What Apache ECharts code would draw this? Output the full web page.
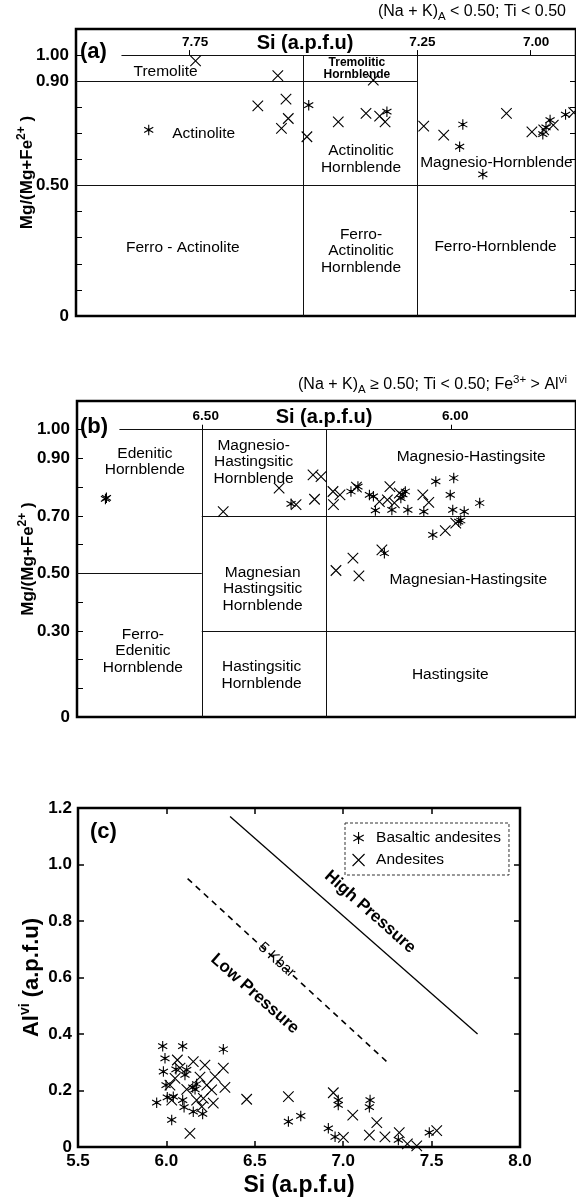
<!DOCTYPE html>
<html><head><meta charset="utf-8">
<script src="https://cdn.jsdelivr.net/npm/echarts@6/dist/echarts.min.js"></script>
<style>html,body{margin:0;padding:0;background:#fff}#c{width:576px;height:1202px}</style>
</head><body><div id="c"></div>
<script>
const FONT = '"Liberation Sans", Arial, Helvetica, sans-serif';

// ---------- Panel (a) ----------
const siTicksA = [7.75, 7.25, 7.00];
const mgLabelsA = [0, 0.5, 0.9, 1.0];
const basalticA = [[7.840,0.713],[7.488,0.808],[7.316,0.783],[7.149,0.734],[7.156,0.649],[7.105,0.543],
  [6.973,0.697],[6.966,0.723],[6.957,0.751],[6.923,0.772]];
const andesitesA = [[7.737,0.978],[7.556,0.921],[7.600,0.805],[7.538,0.831],[7.533,0.757],[7.548,0.719],
  [7.492,0.687],[7.423,0.744],[7.346,0.904],[7.362,0.777],[7.332,0.766],[7.320,0.744],[7.235,0.728],
  [7.191,0.693],[7.053,0.777],[6.997,0.706],[6.971,0.713],[6.950,0.732],[6.905,0.780]];
const boundariesA = [
  [[7.90,1.0],[6.9,1.0]], [[8.0,0.9],[7.25,0.9]], [[8.0,0.5],[6.9,0.5]],
  [[7.5,1.0],[7.5,0]], [[7.25,1.0],[7.25,0]]];
const fieldLabelsA = [
  ['Tremolite',7.803,0.935], ['Actinolite',7.719,0.697], ['Tremolitic\nHornblende',7.382,0.946],
  ['Actinolitic\nHornblende',7.373,0.60], ['Magnesio-Hornblende',7.075,0.586],
  ['Ferro - Actinolite',7.765,0.26], ['Ferro-\nActinolitic\nHornblende',7.373,0.249], ['Ferro-Hornblende',7.077,0.265]];

// ---------- Panel (b) ----------
const siTicksB = [6.50, 6.00];
const mgLabelsB = [0, 0.3, 0.5, 0.7, 0.9, 1.0];
const basalticB = [[6.693,0.759],[6.691,0.763],[6.321,0.742],[6.201,0.785],[6.187,0.802],[6.164,0.773],
  [6.156,0.768],[6.152,0.719],[6.119,0.721],[6.101,0.762],[6.092,0.785],[6.097,0.775],[6.087,0.721],
  [6.055,0.715],[6.031,0.820],[5.995,0.832],[6.002,0.773],[5.997,0.721],[5.974,0.715],[5.943,0.745],
  [5.985,0.680],[5.981,0.684],[6.037,0.634],[6.134,0.570]];
const andesitesB = [[6.457,0.715],[6.345,0.797],[6.311,0.739],[6.274,0.758],[6.277,0.843],[6.261,0.837],
  [6.237,0.785],[6.223,0.773],[6.236,0.739],[6.190,0.800],[6.144,0.750],[6.123,0.802],[6.128,0.756],
  [6.114,0.745],[6.104,0.779],[6.057,0.773],[6.045,0.747],[5.991,0.675],[6.012,0.649],[6.139,0.582],
  [6.197,0.553],[6.231,0.510],[6.185,0.491]];
const boundariesB = [
  [[6.665,1.0],[5.75,1.0]], [[6.5,1.0],[6.5,0]], [[6.25,1.0],[6.25,0]],
  [[6.5,0.7],[5.75,0.7]], [[6.75,0.5],[6.5,0.5]], [[6.5,0.3],[5.75,0.3]]];
const fieldLabelsB = [
  ['Edenitic\nHornblende',6.614,0.888], ['Ferro-\nEdenitic\nHornblende',6.618,0.23],
  ['Magnesio-\nHastingsitic\nHornblende',6.396,0.888], ['Magnesian\nHastingsitic\nHornblende',6.378,0.446],
  ['Hastingsitic\nHornblende',6.38,0.146], ['Magnesio-Hastingsite',5.96,0.906],
  ['Magnesian-Hastingsite',5.966,0.477], ['Hastingsite',6.002,0.146]];

// ---------- Panel (c) ----------
const basalticC = [[5.979,0.357],[6.092,0.357],[6.322,0.346],[5.992,0.314],[5.983,0.267],[6.054,0.275],
  [6.115,0.273],[6.105,0.255],[5.998,0.219],[5.945,0.157],[6.005,0.176],[6.039,0.178],[6.030,0.096],
  [6.092,0.166],[6.100,0.141],[6.149,0.211],[6.162,0.204],[6.171,0.223],[6.152,0.125],[6.205,0.117],
  [6.690,0.090],[6.760,0.110],[6.916,0.066],[6.954,0.036],[6.972,0.166],[6.972,0.149],[7.152,0.166],
  [7.148,0.141],[7.312,0.025],[7.487,0.051]];
const andesitesC = [[6.133,0.048],[6.454,0.169],[6.690,0.178],[6.322,0.279],[6.331,0.211],[6.275,0.249],
  [6.218,0.290],[6.152,0.302],[6.228,0.219],[6.256,0.202],[6.265,0.155],[6.049,0.243],[6.020,0.219],
  [6.077,0.279],[6.062,0.308],[6.171,0.166],[6.209,0.172],[6.200,0.143],[6.115,0.204],[6.030,0.166],
  [6.190,0.247],[6.944,0.192],[7.001,0.034],[7.054,0.113],[7.190,0.086],[7.148,0.042],[7.236,0.036],
  [7.317,0.051],[7.363,0.011],[7.416,0.004],[7.529,0.058]];
const highPressureLine = [[6.36,1.17],[7.76,0.40]];
const kbar5Line = [[6.12,0.95],[7.25,0.30]];
const fieldLabelsC = [['High Pressure',7.152,0.832], ['5 Kbar',6.624,0.662], ['Low Pressure',6.50,0.542]];

const labelStyle = {
  'Tremolitic\nHornblende': {size: 12, bold: true, lh: 12},
  'High Pressure': {size: 17, bold: true, rot: -41.5},
  'Low Pressure': {size: 17, bold: true, rot: -41.5},
  '5 Kbar': {size: 15, rot: -42}
};

const STAR = 'path://M5,0L5,10M0.67,2.5L9.33,7.5M9.33,2.5L0.67,7.5M4.2,4.2L5.8,4.2L5.8,5.8L4.2,5.8Z';
const CROSS = 'path://M0,0L10,10M10,0L0,10';

function pts(name, symbol, data, xi, yi) {
  return {type: 'scatter', name, data, xAxisIndex: xi, yAxisIndex: yi, symbol, symbolSize: 10.5,
    symbolKeepAspect: true, silent: true,
    itemStyle: {color: '#000', borderColor: '#000', borderWidth: 1.1, opacity: 1}};
}
function segs(list, xi, yi, style) {
  return {type: 'lines', coordinateSystem: 'cartesian2d', xAxisIndex: xi, yAxisIndex: yi, silent: true,
    data: list.map(c => ({coords: c})),
    lineStyle: Object.assign({color: '#000', width: 1, opacity: 1, curveness: 0}, style || {})};
}
function texts(arr, xi, yi) {
  return {type: 'custom', xAxisIndex: xi, yAxisIndex: yi, silent: true,
    data: arr.map(d => [d[1], d[2]]),
    renderItem: (p, api) => {
      const d = arr[p.dataIndex];
      const st = labelStyle[d[0]] || {};
      const c = api.coord([api.value(0), api.value(1)]);
      return {type: 'text', x: c[0], y: c[1], rotation: (st.rot || 0) * Math.PI / 180,
        style: {text: d[0], fill: '#000', fontFamily: FONT, fontSize: st.size || 15.5,
          fontWeight: st.bold ? 'bold' : 'normal', align: 'center', verticalAlign: 'middle',
          lineHeight: st.lh || 16.5}};
    }};
}

const gridA = {left: 76, top: 29, width: 502, height: 287};
const gridB = {left: 77, top: 401, width: 501, height: 316};
const gridC = {left: 78, top: 808, width: 442, height: 339};
const border = {show: true, borderColor: '#000', borderWidth: 2.5, backgroundColor: 'transparent'};

const axisName = {fontFamily: FONT, fontWeight: 'bold', color: '#000'};
const tickLbl = {fontFamily: FONT, fontWeight: 'bold', color: '#000'};

function topSiAxis(grid, min, max, ticks, gridObj, pad, namePad) {
  const off = -(gridObj.height * 0.1 / 1.1);
  return {type: 'value', gridIndex: grid, inverse: true, min, max, position: 'top', offset: off,
    axisLine: {show: false, onZero: false},
    axisTick: {show: true, customValues: ticks, length: 5, lineStyle: {color: '#000', width: 1}},
    axisLabel: {customValues: ticks, formatter: v => v.toFixed(2), fontSize: 13.5, margin: 6,
      padding: [0, 0, 0, pad], ...tickLbl},
    splitLine: {show: false},
    name: 'Si (a.p.f.u)', nameLocation: 'middle', nameGap: 2, nameMoveOverlap: false,
    nameTextStyle: {...axisName, fontSize: 20, padding: [0, namePad, 0, 0]}};
}
function mgAxis(grid, labels) {
  return {type: 'value', gridIndex: grid, min: 0, max: 1.1, interval: 0.1, position: 'left',
    axisLine: {show: false}, axisTick: {show: true, inside: true, length: 6, lineStyle: {color: '#000'}},
    axisLabel: {customValues: labels, formatter: v => v === 0 ? '0' : v.toFixed(2), fontSize: 17, margin: 7, ...tickLbl},
    splitLine: {show: false},
    name: '{b|Mg/(Mg+Fe}{s|2+}{b| )}', nameLocation: 'middle', nameGap: 38, nameRotate: 90,
    nameMoveOverlap: false,
    nameTextStyle: {...axisName, fontSize: 17, rich: {
      b: {fontFamily: FONT, fontWeight: 'bold', fontSize: 17, lineHeight: 22, color: '#000'},
      s: {fontFamily: FONT, fontWeight: 'bold', fontSize: 12, lineHeight: 12, verticalAlign: 'top', color: '#000'}}}};
}

const rich13 = {
  n: {fontFamily: FONT, fontSize: 16, lineHeight: 22, fill: '#000'},
  sub: {fontFamily: FONT, fontSize: 11.5, lineHeight: 11, verticalAlign: 'bottom', fill: '#000'},
  sup: {fontFamily: FONT, fontSize: 11.5, lineHeight: 11, verticalAlign: 'top', fill: '#000'}
};

const option = {
  animation: false,
  backgroundColor: '#fff',
  textStyle: {fontFamily: FONT},
  grid: [{...gridA, ...border}, {...gridB, ...border}, {...gridC, ...border}],
  xAxis: [
    topSiAxis(0, 6.9, 8.0, siTicksA, gridA, 11, 42),
    topSiAxis(1, 5.75, 6.75, siTicksB, gridB, 8, 5),
    {type: 'value', gridIndex: 2, min: 5.5, max: 8.0, interval: 0.5, position: 'bottom',
      axisLine: {show: false, onZero: false},
      axisTick: {show: true, inside: true, length: 6, lineStyle: {color: '#000', width: 1.5}},
      axisLabel: {formatter: v => v.toFixed(1), fontSize: 17, margin: 6, ...tickLbl},
      splitLine: {show: false},
      name: 'Si (a.p.f.u)', nameLocation: 'middle', nameGap: 27, nameMoveOverlap: false,
      nameTextStyle: {...axisName, fontSize: 23}},
    {type: 'value', gridIndex: 2, min: 5.5, max: 8.0, interval: 0.5, position: 'top',
      axisLine: {show: false, onZero: false},
      axisTick: {show: true, inside: true, length: 6, lineStyle: {color: '#000', width: 1.5}},
      axisLabel: {show: false}, splitLine: {show: false}}
  ],
  yAxis: [
    mgAxis(0, mgLabelsA),
    {type: 'value', gridIndex: 0, min: 0, max: 1.1, interval: 0.1, position: 'right',
      axisLine: {show: false}, axisTick: {show: true, inside: true, length: 6, lineStyle: {color: '#000'}},
      axisLabel: {show: false}, splitLine: {show: false}},
    mgAxis(1, mgLabelsB),
    {type: 'value', gridIndex: 2, min: 0, max: 1.2, interval: 0.2, position: 'left',
      axisLine: {show: false}, axisTick: {show: true, inside: true, length: 6, lineStyle: {color: '#000', width: 1.5}},
      axisLabel: {formatter: v => v === 0 ? '0' : v.toFixed(1), fontSize: 17, margin: 6, ...tickLbl},
      splitLine: {show: false},
      name: '{b|Al}{s|vi}{b| (a.p.f.u)}', nameLocation: 'middle', nameGap: 32, nameRotate: 90,
      nameMoveOverlap: false,
      nameTextStyle: {...axisName, fontSize: 22, rich: {
        b: {fontFamily: FONT, fontWeight: 'bold', fontSize: 22, lineHeight: 28, color: '#000'},
        s: {fontFamily: FONT, fontWeight: 'bold', fontSize: 14, lineHeight: 14, verticalAlign: 'top', color: '#000'}}}},
    {type: 'value', gridIndex: 2, min: 0, max: 1.2, interval: 0.2, position: 'right',
      axisLine: {show: false}, axisTick: {show: true, inside: true, length: 6, lineStyle: {color: '#000', width: 1.5}},
      axisLabel: {show: false}, splitLine: {show: false}}
  ],
  legend: {data: ['Basaltic andesites', 'Andesites'], orient: 'vertical', left: 345, top: 823,
    padding: [7, 8, 7, 7], itemGap: 6, itemWidth: 13, itemHeight: 12, selectedMode: false,
    borderColor: '#333', borderWidth: 1, borderType: [3, 2],
    textStyle: {fontFamily: FONT, fontSize: 15.5, color: '#000', padding: [0, 0, 0, 6]},
    itemStyle: {color: '#000', borderColor: '#000', borderWidth: 1.1}},
  graphic: [
    {type: 'text', left: 80, top: 41, style: {text: '(a)', fontFamily: FONT, fontWeight: 'bold', fontSize: 22, fill: '#000'}},
    {type: 'text', left: 80, top: 416, style: {text: '(b)', fontFamily: FONT, fontWeight: 'bold', fontSize: 22, fill: '#000'}},
    {type: 'text', left: 90, top: 821, style: {text: '(c)', fontFamily: FONT, fontWeight: 'bold', fontSize: 22, fill: '#000'}},
    {type: 'text', right: 10, top: 4, style: {text: '{n|(Na + K)}{sub|A}{n| < 0.50; Ti < 0.50}', rich: rich13}},
    {type: 'text', left: 298, top: 374, style: {text: '{n|(Na + K)}{sub|A}{n| ≥ 0.50; Ti < 0.50; Fe}{sup|3+}{n| > Al}{sup|vi}', rich: rich13}}
  ],
  series: [
    segs(boundariesA, 0, 0, {color: '#111'}),
    segs(boundariesB, 1, 2, {color: '#111'}),
    segs([highPressureLine], 2, 3, {width: 1.3}),
    segs([kbar5Line], 2, 3, {width: 1.6, type: [6, 5]}),
    texts(fieldLabelsA, 0, 0),
    texts(fieldLabelsB, 1, 2),
    texts(fieldLabelsC, 2, 3),
    pts('Basaltic andesites', STAR, basalticA, 0, 0),
    pts('Andesites', CROSS, andesitesA, 0, 0),
    pts('Basaltic andesites', STAR, basalticB, 1, 2),
    pts('Andesites', CROSS, andesitesB, 1, 2),
    pts('Basaltic andesites', STAR, basalticC, 2, 3),
    pts('Andesites', CROSS, andesitesC, 2, 3)
  ]
};
const chart = echarts.init(document.getElementById('c'), null, {renderer: 'canvas'});
chart.setOption(option);
</script></body></html>
